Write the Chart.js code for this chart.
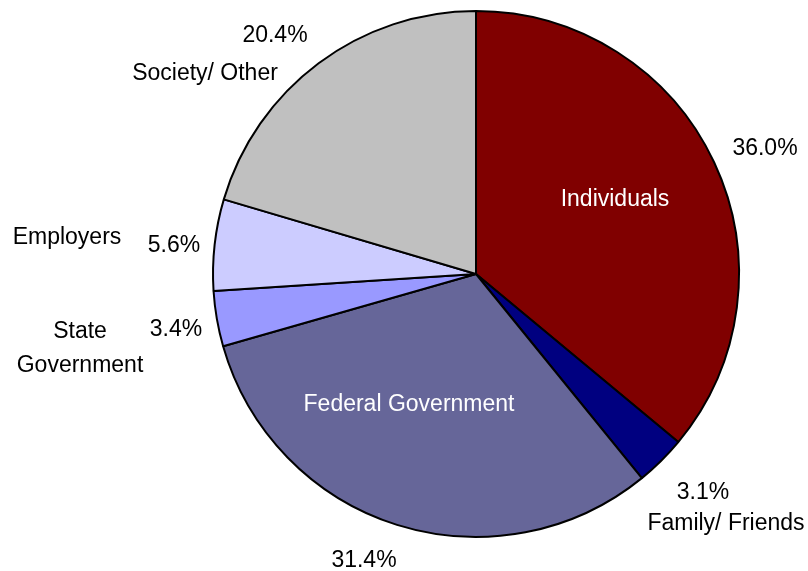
<!DOCTYPE html>
<html>
<head>
<meta charset="utf-8">
<script src="https://cdn.jsdelivr.net/npm/chart.js@4/dist/chart.umd.min.js"></script>
<style>
  html, body { margin: 0; padding: 0; background: #fff; }
  #wrap { width: 808px; height: 571px; }
</style>
</head>
<body>
<div id="wrap"><canvas id="c" width="808" height="571"></canvas></div>
<script>
// Sources of payment, share of total (%)
const categories = ['Individuals', 'Family/ Friends', 'Federal Government', 'State Government', 'Employers', 'Society/ Other'];
const shares = [36.0, 3.1, 31.4, 3.4, 5.6, 20.4];
const sliceColors = ['#800000', '#000080', '#666699', '#9999FF', '#CCCCFF', '#C0C0C0'];

// Text placement for each slice: name lines and percentage, in canvas pixels
const labelSpots = [
  { name: [['Individuals', 615, 200]], pct: [765, 149], nameColor: '#ffffff' },
  { name: [['Family/ Friends', 726, 524]], pct: [703, 493], nameColor: '#000000' },
  { name: [['Federal Government', 409, 405]], pct: [364, 561], nameColor: '#ffffff' },
  { name: [['State', 80, 332], ['Government', 80, 366]], pct: [176, 330], nameColor: '#000000' },
  { name: [['Employers', 67, 238]], pct: [174, 246], nameColor: '#000000' },
  { name: [['Society/ Other', 205, 74]], pct: [275, 36], nameColor: '#000000' }
];

const sliceLabels = {
  id: 'sliceLabels',
  afterDatasetsDraw(chart) {
    const ctx = chart.ctx;
    const ds = chart.data.datasets[0];
    ctx.save();
    ctx.font = '23px "Liberation Sans", Arial, sans-serif';
    ctx.textAlign = 'center';
    ctx.textBaseline = 'middle';
    ds.data.forEach((v, i) => {
      const spot = labelSpots[i];
      ctx.fillStyle = spot.nameColor;
      spot.name.forEach(([t, x, y]) => ctx.fillText(t, x, y));
      ctx.fillStyle = '#000000';
      ctx.fillText(v.toFixed(1) + '%', spot.pct[0], spot.pct[1]);
    });
    ctx.restore();
  }
};

new Chart(document.getElementById('c'), {
  type: 'pie',
  data: {
    labels: categories,
    datasets: [{
      data: shares,
      backgroundColor: sliceColors,
      borderColor: '#000000',
      borderWidth: 2
    }]
  },
  options: {
    responsive: false,
    animation: false,
    layout: { padding: { top: 10, bottom: 33, left: 212, right: 68 } },
    plugins: {
      legend: { display: false },
      tooltip: { enabled: false }
    }
  },
  plugins: [sliceLabels]
});
</script>
</body>
</html>
